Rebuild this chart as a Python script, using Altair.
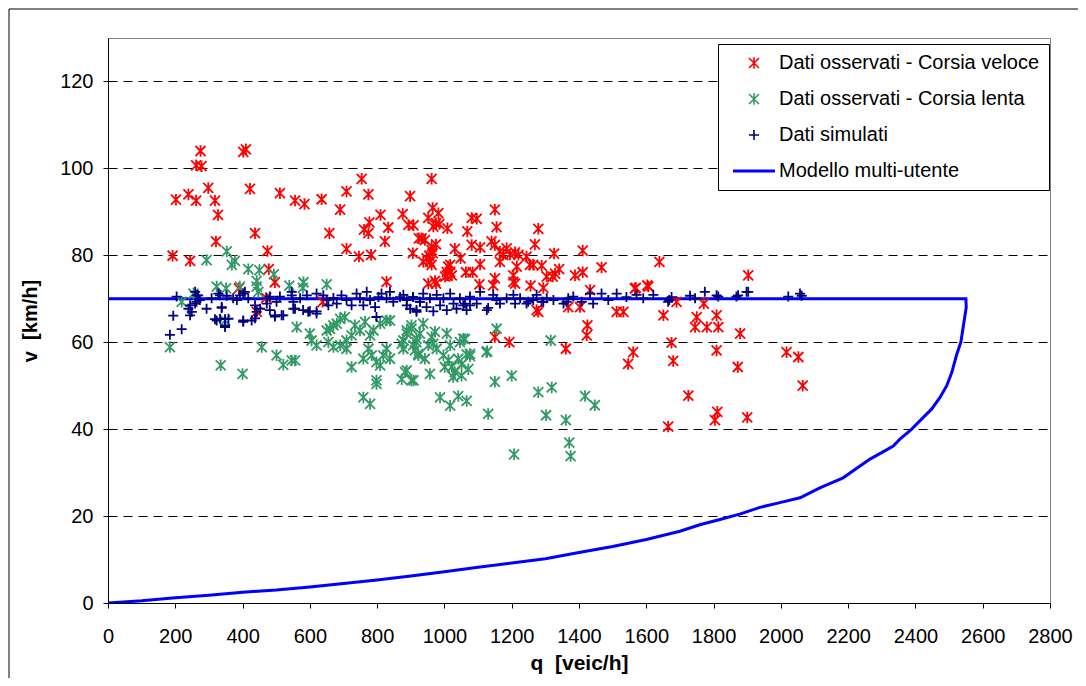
import altair as alt
import pandas as pd

S_RED = "Dati osservati - Corsia veloce"
S_GREEN = "Dati osservati - Corsia lenta"
S_BLUE = "Dati simulati"
S_MOD = "Modello multi-utente"

red_q = [275, 262, 278, 402, 410, 202, 239, 262, 298, 318, 327, 422, 321, 437, 192, 244, 474, 478, 511, 556,
         584, 635, 690, 709, 754, 774, 658, 709, 746, 782, 761, 774, 777, 810, 833, 823, 876, 898, 893, 908,
         906, 924, 962, 965, 982, 952, 975, 985, 967, 1009, 1081, 1096, 1068, 1150, 1155, 1279, 932, 942, 962, 975,
         955, 965, 937, 962, 1031, 1048, 1081, 1106, 1140, 1150, 1165, 1175, 1185, 1195, 1210, 1220, 1165, 1215, 1244, 1254,
         1264, 1269, 1289, 1326, 1411, 1304, 1329, 1341, 1322, 1388, 1411, 1467, 1007, 1017, 1022, 1002, 1064, 1084, 1106, 952,
         975, 1104, 1150, 1145, 1205, 1205, 1210, 1256, 1294, 1433, 1569, 1603, 1639, 1279, 1368, 1403, 1512, 1532, 1651, 1690,
         1750, 1771, 1809, 1745, 1780, 1814, 1879, 1903, 1566, 1606, 1425, 1423, 1361, 1193, 1150, 1561, 1546, 1675, 1809, 2017,
         2052, 1680, 1872, 2065, 1725, 1811, 1804, 1900, 1665, 1274, 496, 389, 470, 442, 638, 828, 972, 962, 947, 957,
         1011, 1017, 1007]
red_v = [104.0, 100.7, 100.5, 103.8, 104.4, 92.8, 94.0, 92.6, 95.5, 92.6, 89.3, 95.3, 83.2, 85.1, 79.9, 78.7, 81.0, 76.8, 94.3, 92.6,
         91.8, 92.9, 90.5, 94.7, 97.6, 94.0, 85.1, 81.5, 79.7, 80.1, 85.9, 85.1, 87.6, 89.3, 86.4, 83.2, 89.5, 93.6, 87.0, 86.9,
         80.5, 83.9, 97.6, 90.9, 89.7, 88.6, 87.4, 87.2, 86.6, 86.2, 88.6, 88.4, 85.5, 90.5, 86.5, 86.1, 83.9, 83.5, 82.0, 82.5,
         79.9, 80.5, 78.5, 77.8, 81.5, 79.3, 82.4, 81.8, 83.2, 82.4, 80.9, 80.1, 81.6, 80.2, 80.7, 80.1, 78.5, 77.4, 79.7, 77.8,
         77.8, 82.5, 77.6, 80.4, 81.1, 75.1, 75.8, 76.8, 75.1, 75.4, 76.1, 77.2, 76.2, 77.8, 75.4, 75.1, 76.1, 76.1, 77.9, 73.5,
         73.5, 73.3, 74.7, 73.1, 75.4, 73.9, 73.5, 73.0, 72.5, 72.0, 72.5, 73.1, 78.5, 67.0, 68.1, 68.1, 67.0, 67.0, 66.2, 69.3,
         65.8, 68.9, 66.2, 63.5, 63.5, 63.5, 62.0, 75.4, 72.4, 72.8, 63.9, 61.6, 58.5, 60.0, 61.2, 57.7, 55.0, 59.9, 58.1, 57.7,
         56.6, 55.7, 54.3, 50.0, 47.7, 44.0, 42.1, 42.7, 40.6, 67.4, 73.8, 72.4, 70.2, 67.0, 69.3, 73.9, 74.1, 81.2, 79.3, 78.5,
         77.4, 76.2, 75.4]

green_q = [293, 353, 368, 377, 417, 450, 493, 323, 351, 392, 442, 447, 539, 581, 579, 650, 219, 254, 348, 184,
           561, 600, 605, 620, 457, 501, 521, 546, 556, 335, 400, 660, 670, 680, 690, 704, 650, 655, 670, 690,
           709, 724, 734, 749, 764, 779, 789, 809, 828, 838, 709, 724, 759, 774, 784, 798, 809, 818, 828, 838,
           798, 798, 759, 779, 873, 878, 888, 908, 888, 902, 917, 923, 878, 888, 902, 907, 912, 917, 927, 937,
           922, 942, 952, 962, 967, 972, 977, 997, 1007, 1012, 1017, 1022, 1031, 1041, 1046, 1051, 1061, 1066, 1076, 1071,
           1051, 1026, 1001, 957, 902, 883, 873, 1155, 1127, 1150, 1200, 1316, 987, 1017, 1041, 1066, 1130, 1279, 1319, 1302,
           1361, 1418, 1447, 1371, 1375, 1207, 442, 1056, 1076, 1125]
green_v = [78.9, 80.9, 77.8, 78.7, 76.8, 76.6, 75.6, 72.8, 72.4, 72.8, 72.8, 71.6, 73.0, 73.8, 72.5, 73.3, 69.3, 71.2, 65.0, 58.9,
           63.5, 62.0, 60.4, 59.3, 58.9, 57.0, 54.8, 55.8, 55.8, 54.7, 52.7, 63.1, 63.9, 64.3, 65.4, 65.8, 62.7, 60.0, 58.9, 59.3,
           60.4, 61.6, 63.9, 62.7, 64.7, 61.6, 62.7, 64.3, 65.0, 65.0, 58.5, 54.3, 56.2, 58.5, 57.0, 55.4, 54.7, 57.0, 58.5, 56.2,
           51.2, 50.4, 47.3, 45.8, 59.7, 58.5, 53.5, 51.2, 62.7, 63.9, 60.0, 57.0, 60.4, 62.0, 63.1, 59.3, 58.1, 60.8, 62.0, 64.3,
           57.3, 56.2, 59.3, 61.2, 59.7, 62.4, 58.5, 57.0, 62.0, 55.9, 59.3, 54.3, 53.1, 56.2, 60.0, 54.9, 60.7, 57.2, 56.8, 53.8,
           52.3, 52.0, 54.3, 52.7, 51.2, 53.1, 51.5, 63.1, 57.9, 50.9, 52.3, 60.4, 47.3, 45.4, 47.6, 46.5, 43.5, 48.5, 49.6, 43.2,
           42.1, 47.6, 45.5, 36.9, 33.8, 34.2, 74.1, 60.8, 57.3, 57.7]

blue_q = [184, 219, 194, 244, 249, 239, 204, 264, 273, 259, 293, 308, 328, 353, 338, 333, 318, 348, 348, 358,
          383, 392, 407, 417, 402, 437, 427, 442, 452, 472, 481, 481, 496, 501, 521, 546, 551, 556, 580, 600,
          620, 620, 640, 650, 655, 670, 680, 694, 709, 724, 739, 749, 759, 769, 779, 794, 804, 813, 828, 838,
          798, 848, 868, 888, 907, 917, 927, 878, 888, 898, 907, 917, 927, 937, 947, 957, 967, 977, 987, 997,
          1007, 1017, 1027, 1036, 1046, 1056, 1066, 1076, 1096, 1106, 1126, 1145, 1155, 1165, 1185, 1205, 1210, 1225, 1244, 1264,
          1274, 1294, 1304, 1324, 1354, 1368, 1383, 1408, 1433, 1467, 1487, 1512, 1541, 1571, 1591, 1621, 1130, 1061, 1076, 1249,
          1289, 1363, 1442, 1665, 1730, 1774, 1809, 1868, 1903, 2022, 2057, 1668, 1675, 1745, 1814, 1873, 1898, 2062, 259, 268,
          263, 244, 323, 338, 348, 333, 372, 402, 437, 402, 496, 516, 472, 511, 546, 571, 551, 595, 620, 591]
blue_v = [61.7, 63.0, 66.1, 66.2, 67.0, 67.7, 70.5, 70.8, 69.7, 68.9, 67.7, 70.1, 71.2, 70.7, 67.9, 65.4, 65.3, 65.3, 63.9, 65.4,
          69.7, 70.8, 71.6, 70.1, 65.0, 68.5, 65.0, 67.0, 67.7, 68.9, 70.5, 67.4, 65.9, 69.3, 66.2, 70.8, 69.3, 67.7, 67.4, 67.1,
          67.1, 71.2, 70.8, 69.7, 68.5, 70.2, 68.9, 70.8, 69.7, 68.5, 71.2, 70.1, 68.5, 71.6, 69.7, 68.1, 70.4, 71.2, 70.1, 71.6,
          65.8, 69.3, 70.4, 68.5, 70.4, 67.0, 69.3, 70.9, 69.7, 67.7, 70.4, 67.4, 69.3, 71.2, 68.1, 70.1, 67.1, 70.9, 68.5, 70.1,
          67.4, 71.2, 68.9, 67.7, 70.1, 68.5, 67.4, 70.5, 68.9, 71.6, 67.4, 70.9, 69.7, 68.9, 70.1, 70.9, 68.9, 70.1, 68.9, 69.7,
          70.9, 69.3, 70.1, 69.7, 68.9, 70.1, 70.5, 69.3, 71.2, 71.2, 69.7, 71.2, 70.4, 70.9, 70.1, 70.9, 67.9, 68.9, 68.5, 69.3,
          69.3, 69.3, 68.9, 69.3, 70.7, 71.6, 70.8, 70.5, 71.6, 70.5, 71.2, 69.7, 70.4, 70.1, 70.5, 70.8, 71.6, 70.7, 71.6, 70.8,
          69.3, 68.5, 65.0, 68.1, 63.5, 70.8, 70.1, 64.7, 65.5, 71.2, 66.2, 66.2, 70.1, 70.5, 71.6, 70.1, 67.7, 67.0, 66.6, 70.8]

model_q = [0, 2550, 2551, 2545, 2535, 2522, 2508, 2493, 2473, 2448, 2413, 2389, 2354, 2334, 2309, 2265, 2185, 2116, 2057, 1997,
           1938, 1880, 1819, 1759, 1700, 1600, 1500, 1400, 1300, 1200, 1100, 1000, 900, 800, 700, 600, 500, 400, 300, 200,
           100, 0]
model_v = [70, 70, 68, 65, 60, 57, 53, 50, 47.3, 44.6, 41.9, 40, 37.7, 36.1, 35, 33.1, 28.8, 26.5, 24.2, 23.1,
           22, 20.5, 19.2, 18, 16.5, 14.6, 13, 11.6, 10.2, 9.2, 8.2, 7.2, 6.2, 5.3, 4.5, 3.7, 3.0, 2.5, 1.8, 1.2,
           0.5, 0]

x_ticks = list(range(0, 2801, 200))
y_ticks = [0, 20, 40, 60, 80, 100, 120]

points = pd.concat([
    pd.DataFrame({"q": red_q, "v": red_v, "series": S_RED}),
    pd.DataFrame({"q": green_q, "v": green_v, "series": S_GREEN}),
    pd.DataFrame({"q": blue_q, "v": blue_v, "series": S_BLUE}),
], ignore_index=True)
points["layer"] = points["series"].map({S_RED: 1, S_GREEN: 2, S_BLUE: 3})
model = pd.DataFrame({"q": model_q, "v": model_v, "series": S_MOD, "idx": list(range(len(model_q)))})

domain = [S_RED, S_GREEN, S_BLUE, S_MOD]
color_scale = alt.Scale(domain=domain, range=["#FF0000", "#339966", "#000080", "#0000FF"])
STAR = "M-1,-1L1,1M-1,1L1,-1M0,-1.15L0,1.15"
PLUS = "M-1,0L1,0M0,-1L0,1"
LINE = "M-4.2,-0.15L4.2,-0.15M-4.2,0.15L4.2,0.15"
shape_scale = alt.Scale(domain=domain, range=[STAR, STAR, PLUS, LINE])

X = alt.X("q:Q", scale=alt.Scale(domain=[0, 2800], nice=False, zero=False),
          axis=alt.Axis(values=x_ticks, title="q\u00a0\u00a0[veic/h]", grid=False, format="d",
                        labelFlush=False, labelOverlap=False, labelPadding=18, titlePadding=6,
                        titleFontSize=21))
Y = alt.Y("v:Q", scale=alt.Scale(domain=[0, 130], nice=False),
          axis=alt.Axis(values=y_ticks, title="v\u00a0\u00a0[km/h]", grid=True, gridDash=[9, 6],
                        gridColor="#000000", gridWidth=1, labelPadding=10, titlePadding=19, format="d",
                        labelFlush=False))

line = alt.Chart(model).mark_line(strokeWidth=3, clip=True).encode(
    x=X, y=Y,
    color=alt.Color("series:N", scale=color_scale, legend=alt.Legend(title=None)),
    order=alt.Order("idx:Q"),
)

pts = alt.Chart(points).mark_point(filled=False, strokeWidth=1.8, size=100, opacity=1).encode(
    x=X, y=Y,
    color=alt.Color("series:N", scale=color_scale, legend=alt.Legend(title=None)),
    shape=alt.Shape("series:N", scale=shape_scale, legend=alt.Legend(title=None)),
    order=alt.Order("layer:Q"),
)

frame_df = pd.DataFrame({"k": [0]})
frame_v = alt.Chart(frame_df).mark_rule(color="#000000", strokeWidth=1, clip=False).encode(
    x=alt.value(-99), y=alt.value(-29), y2=alt.value(700))
frame_h = alt.Chart(frame_df).mark_rule(color="#000000", strokeWidth=1, clip=False).encode(
    x=alt.value(-99), x2=alt.value(1100), y=alt.value(-29))

chart = alt.layer(line, pts, frame_v, frame_h).properties(
    width=942, height=565,
    autosize=alt.AutoSizeParams(type="none"),
    padding={"left": 100, "top": 30, "right": 28, "bottom": 75},
    background="#FFFFFF",
).configure_view(
    stroke="#808080", strokeWidth=1
).configure_axis(
    labelFont="Liberation Sans", labelFontSize=20, labelColor="#000000",
    titleFont="Liberation Sans", titleFontSize=20, titleFontWeight="bold", titleColor="#000000",
    tickColor="#000000", tickSize=5, domainColor="#000000", domainWidth=1,
).configure_legend(
    orient="none", legendX=610, legendY=6, padding=9,
    strokeColor="#000000", fillColor="#FFFFFF", strokeWidth=1,
    labelFont="Liberation Sans", labelFontSize=20, labelColor="#000000", labelLimit=600,
    symbolSize=100, symbolStrokeWidth=1.6, rowPadding=16,
    symbolOffset=17, labelOffset=15,
)

chart.save("out.html", embed_options={"renderer": "svg", "actions": False})
